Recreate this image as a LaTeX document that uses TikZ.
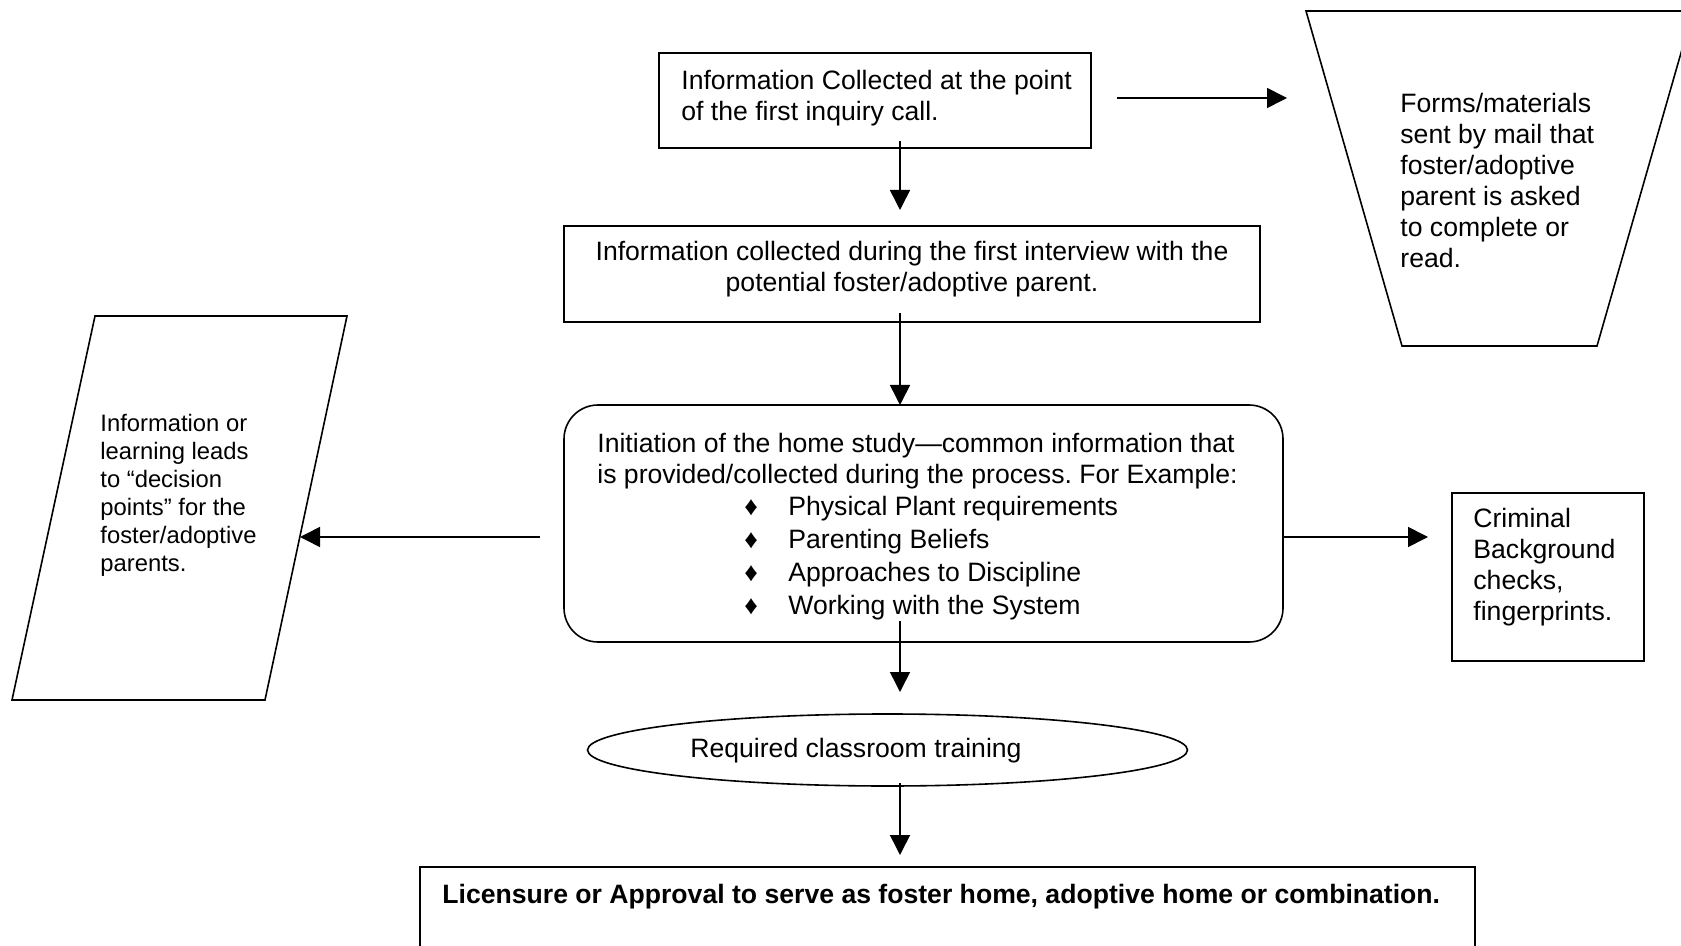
\documentclass[tikz,border=0pt]{standalone}
\usepackage{fontspec}
\setmainfont{Liberation Sans}
\usetikzlibrary{shapes.geometric}
\usetikzlibrary{arrows.meta}
\frenchspacing

\begin{document}
\begin{tikzpicture}[x=0.5pt,y=-0.5pt]

            \tikzstyle{boxLine} = [draw, line width=0.8pt, inner sep=0pt, outer sep=0pt];
            \tikzstyle{plainBox} = [boxLine, rectangle];
            \tikzstyle{boxText} = [inner sep=0pt, align=left, anchor=north west, font=\fontsize{13.3pt}{15.5pt}\selectfont];
            \tikzstyle{flow} = [line width=0.8pt, -{Triangle[length=10pt,width=10pt]}];

            \useasboundingbox (0,0) rectangle (1681,946);
            \clip (0,0) rectangle (1681,946);

            \coordinate (spine) at (900,0);
            \coordinate (sideline) at (0,537);
            \coordinate (formsGap) at (1287,98);
            \coordinate (decisionEdge) at (300,537);

            % boxes down the middle
            \node[plainBox, minimum width=216pt, minimum height=47.5pt] (inquiry) at (875,100.5) {};
            \node[plainBox, minimum width=348pt, minimum height=48pt] (interview) at (912,274) {};
            \node[plainBox, rounded corners=17pt, minimum width=359.5pt, minimum height=118.5pt] (homestudy) at (923.5,523.5) {};
            \node[boxLine, ellipse, minimum width=300pt, minimum height=36pt] (training) at (887.5,750) {};
            \node[plainBox, minimum width=527.5pt, minimum height=116.5pt] (licensure) at (947.5,983.5) {};
            \node[plainBox, minimum width=96pt, minimum height=84pt] (criminal) at (1548,577) {};

            % side shapes
            \draw[boxLine] (1306,11) -- (1693,11) -- (1597,346) -- (1402,346) -- cycle;
            \draw[boxLine] (95,316) -- (347,316) -- (265,700) -- (12,700) -- cycle;

            % texts
            \node[boxText] (inquiryText) at (681,70) {Information Collected at the point\\of the first inquiry call.};
            \node[boxText, align=center, anchor=north] (interviewText) at (912,241) {Information collected during the first interview with the\\potential foster/adoptive parent.};
            \node[boxText] (homestudyText) at (597,433) {Initiation of the home study---common information that\\
              is provided/collected during the process. For Example:\\[0.5pt]
              \hspace*{73.5pt}\makebox[22pt][l]{♦}Physical Plant requirements\\[1pt]
              \hspace*{73.5pt}\makebox[22pt][l]{♦}Parenting Beliefs\\[1pt]
              \hspace*{73.5pt}\makebox[22pt][l]{♦}Approaches to Discipline\\[1pt]
              \hspace*{73.5pt}\makebox[22pt][l]{♦}Working with the System};
            \node[boxText] (trainingText) at (690,738) {Required classroom training};
            \node[boxText, font=\fontsize{13.3pt}{15.5pt}\selectfont\bfseries] (licensureText) at (442,884) {Licensure or Approval to serve as foster home, adoptive home or combination.};
            \node[boxText] (formsText) at (1400,93) {Forms/materials\\sent by mail that\\foster/adoptive\\parent is asked\\to complete or\\read.};
            \node[boxText, font=\fontsize{11.9pt}{14pt}\selectfont] (decisionText) at (100,414) {Information or\\learning leads\\to ``decision\\points'' for the\\foster/adoptive\\parents.};
            \node[boxText] (criminalText) at (1473,508) {Criminal\\Background\\checks,\\fingerprints.};

            \draw[flow, shorten <=-3.5pt, shorten >=8pt] (inquiry.south -| spine) -- (interview.north -| spine);
            \draw[flow, shorten <=-4.5pt] (interview.south -| spine) -- (homestudy.north -| spine);
            \draw[flow, shorten <=-10.5pt, shorten >=11pt] (homestudy.south -| spine) -- (training.north -| spine);
            \draw[flow, shorten <=-1.5pt, shorten >=6pt] (training.south -| spine) -- (licensure.north -| spine);
            \draw[flow, shorten <=13pt] (inquiry.east |- formsGap) -- (formsGap);
            \draw[flow, shorten <=12pt] (homestudy.west |- sideline) -- (decisionEdge);
            \draw[flow, shorten >=12pt] (homestudy.east |- sideline) -- (criminal.west |- sideline);
          \end{tikzpicture}
\end{document}
